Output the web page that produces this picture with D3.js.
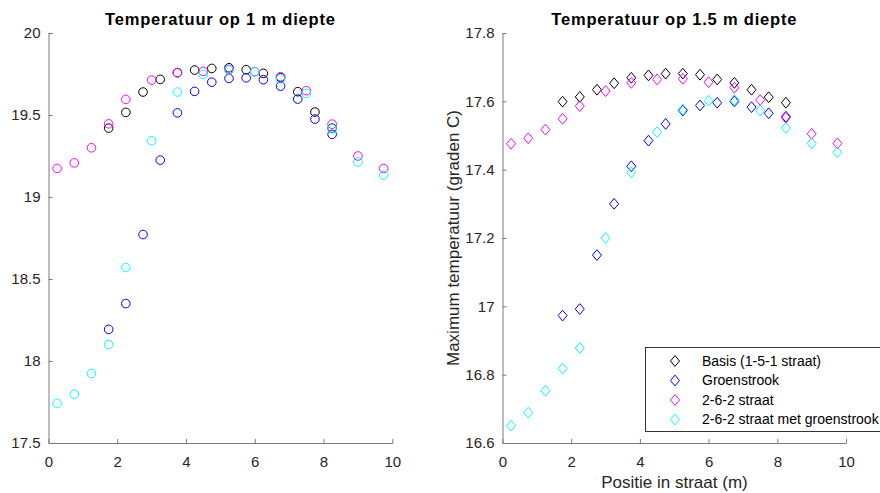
<!DOCTYPE html>
<html>
<head>
<meta charset="utf-8">
<script src="https://cdn.jsdelivr.net/npm/d3@7"></script>
<style>
  html, body { margin: 0; padding: 0; background: #fff; }
  svg { display: block; font-family: "Liberation Sans", Arial, Helvetica, sans-serif; }
</style>
</head>
<body>
<svg id="chart" width="880" height="493"></svg>
<script>
// ---- data ----
const xBasis = [1.75, 2.25, 2.75, 3.25, 3.75, 4.25, 4.75, 5.25, 5.75, 6.25, 6.75, 7.25, 7.75, 8.25];
const x262   = [0.25, 0.75, 1.25, 1.75, 2.25, 3.0, 3.75, 4.5, 5.25, 6.0, 6.75, 7.5, 8.25, 9.0, 9.75];

// 1 m depth
const basis1m  = [19.42, 19.516, 19.64, 19.717, 19.758, 19.774, 19.784, 19.788, 19.776, 19.754, 19.728, 19.642, 19.518, 19.42];
const groen1m  = [18.193, 18.35, 18.771, 19.225, 19.513, 19.644, 19.70, 19.723, 19.727, 19.715, 19.676, 19.597, 19.475, 19.382];
const s262_1m  = [19.174, 19.208, 19.30, 19.446, 19.595, 19.713, 19.758, 19.766, 19.778, 19.765, 19.733, 19.648, 19.444, 19.25, 19.174];
const s262g_1m = [17.741, 17.798, 17.924, 18.10, 18.57, 19.343, 19.64, 19.748, 19.774, 19.762, 19.72, 19.632, 19.416, 19.214, 19.133];

// 1.5 m depth
const basis15  = [17.599, 17.613, 17.634, 17.653, 17.669, 17.676, 17.681, 17.681, 17.678, 17.664, 17.654, 17.634, 17.612, 17.596];
const groen15  = [16.973, 16.992, 17.150, 17.30, 17.410, 17.485, 17.534, 17.573, 17.588, 17.596, 17.600, 17.583, 17.565, 17.555];
const s262_15  = [17.476, 17.492, 17.517, 17.549, 17.586, 17.630, 17.654, 17.664, 17.666, 17.656, 17.640, 17.604, 17.552, 17.505, 17.477];
const s262g_15 = [16.651, 16.689, 16.753, 16.818, 16.878, 17.20, 17.392, 17.51, 17.576, 17.602, 17.604, 17.573, 17.522, 17.477, 17.451];

const seriesNames = ["Basis (1-5-1 straat)", "Groenstrook", "2-6-2 straat", "2-6-2 straat met groenstrook"];
const seriesColors = ["#000000", "#0000ff", "#ff00ff", "#00ffff"];

const xTicks = [0, 2, 4, 6, 8, 10];
const yTicks1 = [17.5, 18, 18.5, 19, 19.5, 20];
const yTicks2 = [16.6, 16.8, 17, 17.2, 17.4, 17.6, 17.8];

const titles = ["Temperatuur op 1 m diepte", "Temperatuur op 1.5 m diepte"];
const xLabel = "Positie in straat (m)";
const yLabel = "Maximum temperatuur (graden C)";

// ---- drawing ----
const svg = d3.select("#chart");
const axisColor = "#7a7a7a";
const textColor = "#262626";

function diamond(cx, cy) {
  const w = 4.5, h = 5.4;
  return `M${cx},${cy - h}L${cx + w},${cy}L${cx},${cy + h}L${cx - w},${cy}Z`;
}

function panel(cfg) {
  const x = d3.scaleLinear().domain([0, 10]).range([cfg.x0, cfg.x1]);
  const y = d3.scaleLinear().domain(cfg.yDomain).range([cfg.y1, cfg.y0]);
  const g = svg.append("g");

  const gx = g.append("g").attr("transform", `translate(0,${cfg.y1})`)
    .call(d3.axisBottom(x).tickValues(xTicks).tickSizeInner(-4).tickSizeOuter(0).tickPadding(13).tickFormat(d => String(d)));
  const gy = g.append("g").attr("transform", `translate(${cfg.x0},0)`)
    .call(d3.axisLeft(y).tickValues(cfg.yTicks).tickSizeInner(-4).tickSizeOuter(0).tickPadding(8).tickFormat(d => String(d)));
  [gx, gy].forEach(a => {
    a.select(".domain").attr("stroke", axisColor).attr("stroke-width", 1);
    a.selectAll(".tick line").attr("stroke", axisColor);
    a.selectAll(".tick text").attr("fill", textColor).style("font-size", "15px");
  });

  g.append("text").attr("x", (cfg.x0 + cfg.x1) / 2).attr("y", 25)
    .attr("text-anchor", "middle").style("font-weight", "bold").style("font-size", "16.5px")
    .style("letter-spacing", "0.8px")
    .attr("fill", "#000").text(cfg.title);

  cfg.sets.forEach((s, i) => {
    const pts = s.xs.map((xv, j) => [x(xv), y(s.ys[j])]);
    if (cfg.marker === "circle") {
      g.append("g").selectAll("circle").data(pts).join("circle")
        .attr("cx", d => d[0]).attr("cy", d => d[1]).attr("r", 4.3)
        .attr("fill", "none").attr("stroke", seriesColors[i]).attr("stroke-width", 1);
    } else {
      g.append("g").selectAll("path").data(pts).join("path")
        .attr("d", d => diamond(d[0], d[1]))
        .attr("fill", "none").attr("stroke", seriesColors[i]).attr("stroke-width", 1);
    }
  });
  return { x, y, g };
}

panel({
  x0: 48.5, x1: 392.3, y0: 33, y1: 443, yDomain: [17.5, 20], yTicks: yTicks1,
  title: titles[0], marker: "circle",
  sets: [
    { xs: xBasis, ys: basis1m },
    { xs: xBasis, ys: groen1m },
    { xs: x262, ys: s262_1m },
    { xs: x262, ys: s262g_1m }
  ]
});

panel({
  x0: 502.5, x1: 846, y0: 33, y1: 443, yDomain: [16.6, 17.8], yTicks: yTicks2,
  title: titles[1], marker: "diamond",
  sets: [
    { xs: xBasis, ys: basis15 },
    { xs: xBasis, ys: groen15 },
    { xs: x262, ys: s262_15 },
    { xs: x262, ys: s262g_15 }
  ]
});

// axis labels (right panel)
svg.append("text").attr("x", 674.5).attr("y", 488)
  .attr("text-anchor", "middle").style("font-size", "17px").attr("fill", textColor).text(xLabel);
svg.append("text").attr("transform", "translate(459,238) rotate(-90)")
  .attr("text-anchor", "middle").style("font-size", "17px").attr("fill", textColor).text(yLabel);

// legend
const lg = svg.append("g");
lg.append("rect").attr("x", 645.5).attr("y", 347.5).attr("width", 260).attr("height", 84)
  .attr("fill", "#fff").attr("stroke", "#333").attr("stroke-width", 1);
seriesNames.forEach((name, i) => {
  const cy = 361 + i * 19.5;
  lg.append("path").attr("d", diamond(675, cy)).attr("fill", "none")
    .attr("stroke", seriesColors[i]).attr("stroke-width", 1);
  lg.append("text").attr("x", 702).attr("y", cy).attr("dy", "0.35em")
    .style("font-size", "14px").attr("fill", "#000").text(name);
});
</script>
</body>
</html>
